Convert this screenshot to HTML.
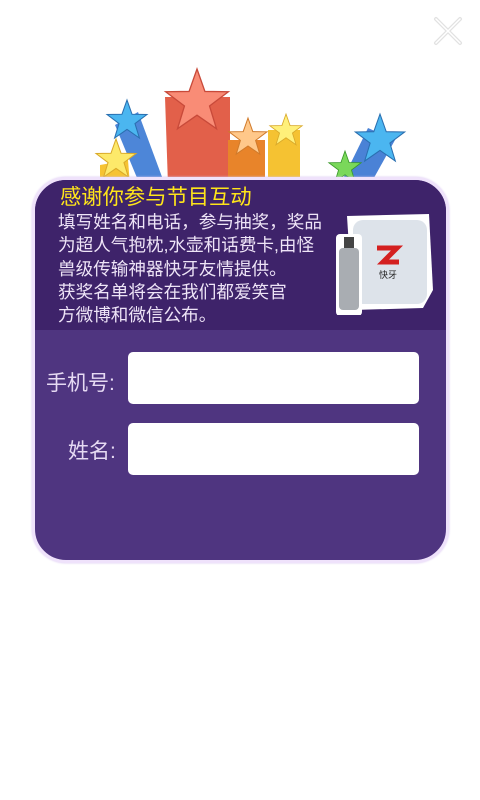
<!DOCTYPE html>
<html><head><meta charset="utf-8">
<style>
html,body{margin:0;padding:0;background:#fff;}
body{width:480px;height:800px;position:relative;overflow:hidden;font-family:"Liberation Sans","Noto Sans CJK SC",sans-serif;}
.abs{position:absolute;}
#card{left:32px;top:177px;width:411px;height:380px;border:3px solid #efe2fb;border-radius:34px;background:#4f3580;overflow:hidden;box-shadow:0 0 2px #d9c6f0;}
#head{left:0;top:0;width:411px;height:150px;background:#3e236a;}
#title{left:25px;top:4px;color:#ffe51a;font-size:21.3px;line-height:26px;white-space:nowrap;}
#desc{left:23px;top:31px;color:#eee4f7;font-size:17.6px;line-height:23.3px;white-space:nowrap;}
.lbl{color:#e6daf3;font-size:21px;white-space:nowrap;}
.inp{background:#fff;border-radius:5px;border:none;}
</style></head><body>
<svg class="abs" style="left:432px;top:15px" width="32" height="32" viewBox="0 0 32 32">
<path d="M4 4 L28 28 M28 4 L4 28" stroke="#e2e2e2" stroke-width="4" stroke-linecap="round"/>
<path d="M4 4 L28 28 M28 4 L4 28" stroke="#fff" stroke-width="1.5" stroke-linecap="round"/>
</svg>
<svg class="abs" style="left:0;top:0" width="480" height="190" viewBox="0 0 480 190">
<defs>
<polygon id="st" points="0,-10 2.4,-3.2 9.5,-3.1 3.8,1.2 5.9,8.1 0,4 -5.9,8.1 -3.8,1.2 -9.5,-3.1 -2.4,-3.2"/>
</defs>
<polygon points="115,125 138,112 165,185 140,185" fill="#4d86d8"/>
<polygon points="165,97 230,97 230,185 168,185" fill="#e2604a"/>
<polygon points="228,140 265,140 265,185 228,185" fill="#e8842a"/>
<polygon points="268,130 300,130 300,185 268,185" fill="#f5c232"/>
<polygon points="340,185 368,128 395,140 370,185" fill="#4a82d6"/>
<polygon points="100,165 128,160 130,185 100,185" fill="#f6c332"/>
<use href="#st" transform="translate(197,102) scale(3.3)" fill="#f98c76" stroke="#c84a3a" stroke-width="0.4"/>
<use href="#st" transform="translate(127,121) scale(2.1)" fill="#4bb6f0" stroke="#2a6fb0" stroke-width="0.5"/>
<use href="#st" transform="translate(116,160) scale(2.1)" fill="#fde96a" stroke="#d9a92a" stroke-width="0.5"/>
<use href="#st" transform="translate(248,138) scale(2)" fill="#ffc88a" stroke="#d07a2a" stroke-width="0.5"/>
<use href="#st" transform="translate(286,131) scale(1.7)" fill="#fff07a" stroke="#d9a92a" stroke-width="0.5"/>
<use href="#st" transform="translate(380,140) scale(2.6)" fill="#4bb6f0" stroke="#2a6fb0" stroke-width="0.4"/>
<use href="#st" transform="translate(345,168) scale(1.7)" fill="#7ad85a" stroke="#3a9a2a" stroke-width="0.5"/>
</svg>
<div id="card" class="abs">
 <div id="head" class="abs">
  <div id="title" class="abs">感谢你参与节目互动</div>
  <div id="desc" class="abs">填写姓名和电话，参与抽奖，奖品<br>为超人气抱枕,水壶和话费卡,由怪<br>兽级传输神器快牙友情提供。<br>获奖名单将会在我们都爱笑官<br>方微博和微信公布。</div>
  <svg class="abs" style="left:298px;top:30px" width="104" height="105" viewBox="0 0 104 105">
   <polygon points="14,6 96,4 100,80 90,98 20,100" fill="#fff"/>
   <rect x="20" y="10" width="74" height="84" rx="10" fill="#dde3ea"/>
   <path d="M44 38 h20 l-14 14 h16" stroke="#d42020" stroke-width="5" fill="none"/>
   <text x="46" y="68" font-size="9" fill="#222">快牙</text>
   <rect x="3" y="24" width="26" height="82" rx="4" fill="#fff"/>
   <rect x="6" y="38" width="20" height="62" rx="4" fill="#a9adb2"/>
   <rect x="11" y="27" width="10" height="11" fill="#444"/>
  </svg>
 </div>
 <div class="abs lbl" style="left:11px;top:187px">手机号:</div>
 <div class="abs inp" style="left:93px;top:172px;width:291px;height:52px"></div>
 <div class="abs lbl" style="left:33px;top:255px">姓名:</div>
 <div class="abs inp" style="left:93px;top:243px;width:291px;height:52px"></div>
</div>
</body></html>
